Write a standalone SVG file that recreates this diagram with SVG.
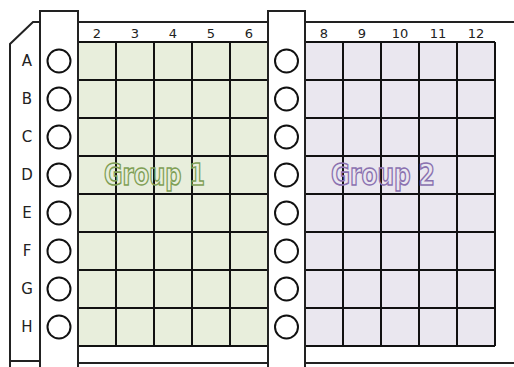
<svg xmlns="http://www.w3.org/2000/svg" width="514" height="367" viewBox="0 0 514 367">
<style>
.ln{fill:none;stroke:#222;stroke-width:2}
.grid{stroke:#111;stroke-width:2}
.well{fill:#fff;stroke:#111;stroke-width:2}
.num{font-family:"DejaVu Sans",sans-serif;font-size:13px;fill:#222;text-anchor:middle}
.row{font-family:"DejaVu Sans",sans-serif;font-size:15px;fill:#222;text-anchor:middle}
.grp{font-family:"DejaVu Sans",sans-serif;font-weight:bold;font-size:30px;fill:none;stroke-width:1.6}
</style>
<rect width="514" height="367" fill="#fff"/>
<g id="plate">
<path class="ln" d="M10,368 V361 H40 M10,361 V44 L33,22 H40 M78,22 H268 M305,22 H515 M78,363 H268 M305,363 H515"/>
</g>
<g id="group1-grid">
<rect x="78" y="42" width="190" height="304" fill="#e8eedc"/>
<path class="grid" d="M78,42 V346 M116,42 V346 M154,42 V346 M192,42 V346 M230,42 V346 M268,42 V346 M78,42 H268 M78,80 H268 M78,118 H268 M78,156 H268 M78,194 H268 M78,232 H268 M78,270 H268 M78,308 H268 M78,346 H268"/>
<text class="grp" x="104" y="185" stroke="#7f9f55" textLength="101" lengthAdjust="spacingAndGlyphs">Group 1</text>
</g>
<g id="group2-grid">
<rect x="305" y="42" width="190" height="304" fill="#eae7ef"/>
<path class="grid" d="M305,42 V346 M343,42 V346 M381,42 V346 M419,42 V346 M457,42 V346 M495,42 V346 M305,42 H495 M305,80 H495 M305,118 H495 M305,156 H495 M305,194 H495 M305,232 H495 M305,270 H495 M305,308 H495 M305,346 H495"/>
<text class="grp" x="331" y="185" stroke="#8a72b0" textLength="104" lengthAdjust="spacingAndGlyphs">Group 2</text>
</g>
<g id="column-labels">
<text class="num" x="97" y="38">2</text>
<text class="num" x="135" y="38">3</text>
<text class="num" x="173" y="38">4</text>
<text class="num" x="211" y="38">5</text>
<text class="num" x="249" y="38">6</text>
<text class="num" x="324" y="38">8</text>
<text class="num" x="362" y="38">9</text>
<text class="num" x="400" y="38">10</text>
<text class="num" x="438" y="38">11</text>
<text class="num" x="476" y="38">12</text>
</g>
<g id="row-labels">
<text class="row" x="27" y="66">A</text>
<text class="row" x="27" y="104">B</text>
<text class="row" x="27" y="142">C</text>
<text class="row" x="27" y="180">D</text>
<text class="row" x="27" y="218">E</text>
<text class="row" x="27" y="256">F</text>
<text class="row" x="27" y="294">G</text>
<text class="row" x="27" y="332">H</text>
</g>
<g id="left-strip">
<path class="ln" d="M40,368 V11 H78 V368" style="fill:#fff"/>
<circle class="well" cx="59" cy="61" r="11.5"/>
<circle class="well" cx="59" cy="99" r="11.5"/>
<circle class="well" cx="59" cy="137" r="11.5"/>
<circle class="well" cx="59" cy="175" r="11.5"/>
<circle class="well" cx="59" cy="213" r="11.5"/>
<circle class="well" cx="59" cy="251" r="11.5"/>
<circle class="well" cx="59" cy="289" r="11.5"/>
<circle class="well" cx="59" cy="327" r="11.5"/>
</g>
<g id="middle-strip">
<path class="ln" d="M268,368 V11 H305 V368" style="fill:#fff"/>
<circle class="well" cx="286.5" cy="61" r="11.5"/>
<circle class="well" cx="286.5" cy="99" r="11.5"/>
<circle class="well" cx="286.5" cy="137" r="11.5"/>
<circle class="well" cx="286.5" cy="175" r="11.5"/>
<circle class="well" cx="286.5" cy="213" r="11.5"/>
<circle class="well" cx="286.5" cy="251" r="11.5"/>
<circle class="well" cx="286.5" cy="289" r="11.5"/>
<circle class="well" cx="286.5" cy="327" r="11.5"/>
</g>
</svg>
